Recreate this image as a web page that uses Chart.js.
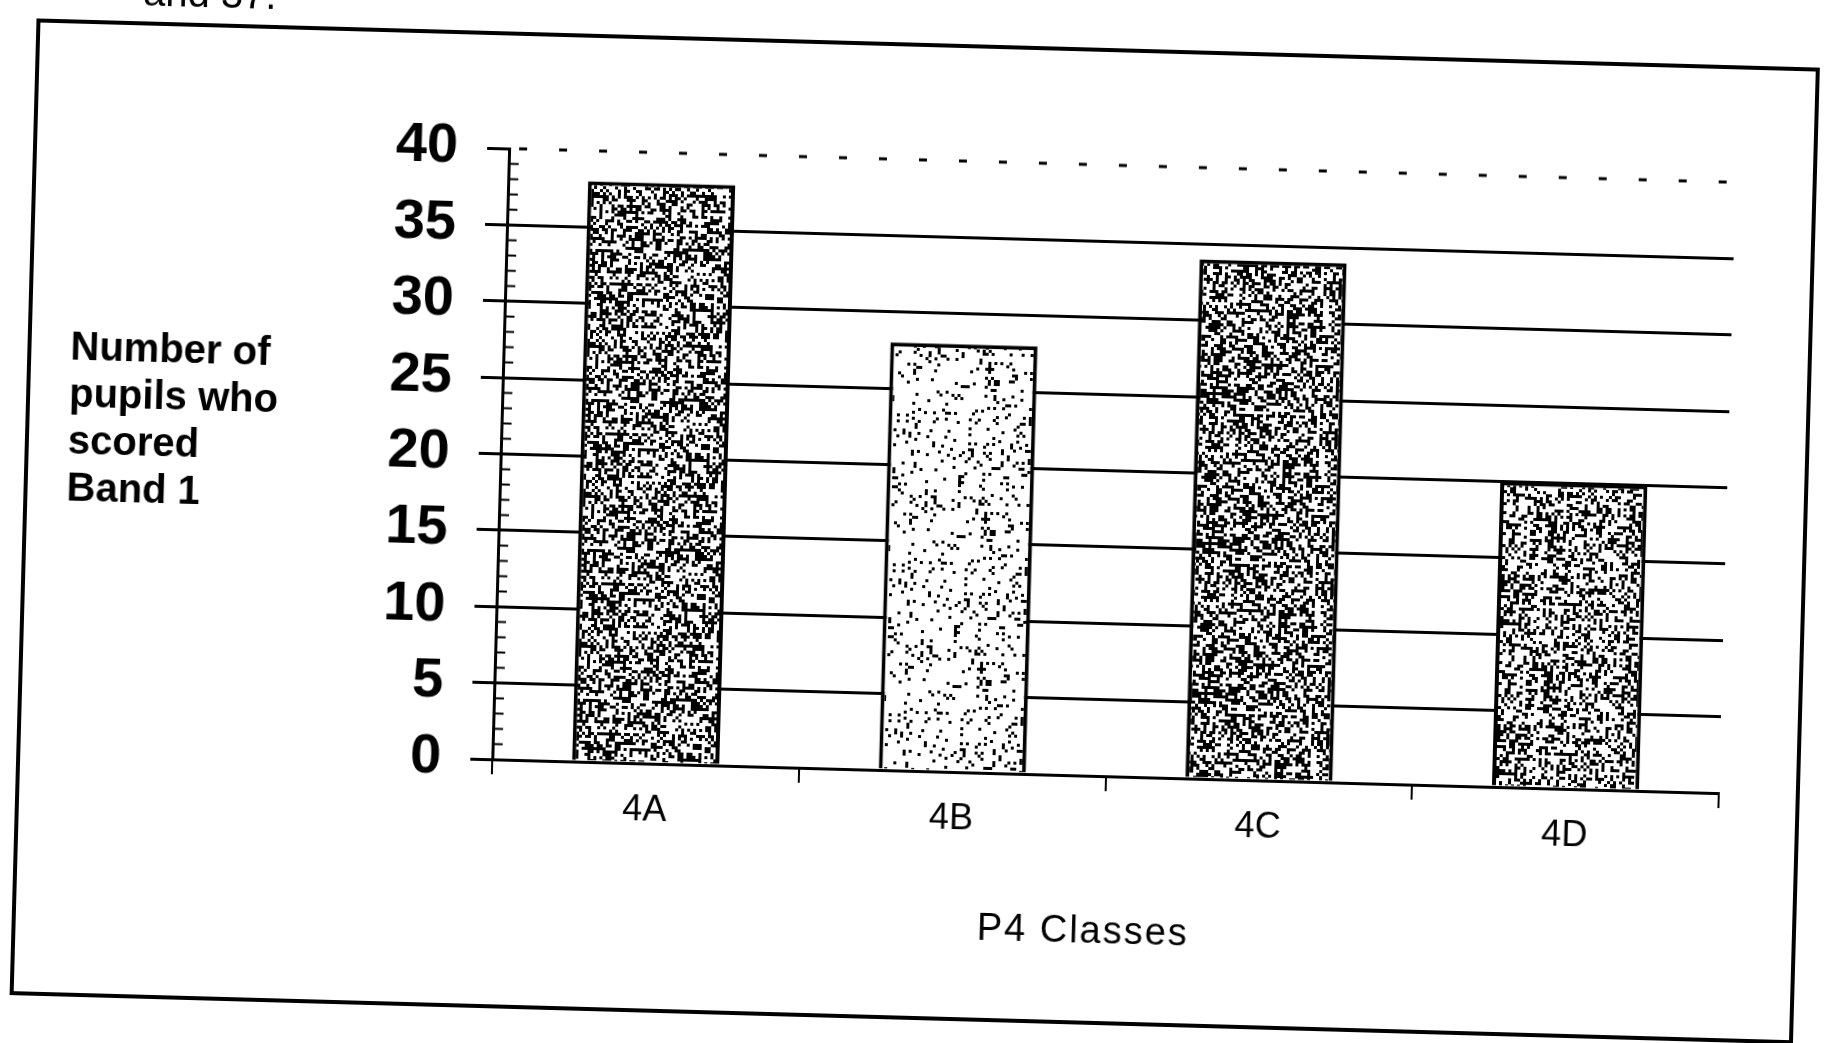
<!DOCTYPE html>
<html><head><meta charset="utf-8">
<script src="https://cdn.jsdelivr.net/npm/chart.js@4"></script>
<style>
html,body{margin:0;padding:0;background:#fff;overflow:hidden;width:1841px;height:1043px}
#c{position:absolute;left:0;top:0;transform:rotate(1.58deg);transform-origin:920.5px 521.5px}
</style></head><body>
<canvas id="c" width="1841" height="1043"></canvas>
<script>
// ---- data ----
const categories = ['4A', '4B', '4C', '4D'];
const pupilsBand1 = [38, 28, 34, 20];
const yTickValues = [0, 5, 10, 15, 20, 25, 30, 35, 40];
const yTitleLines = ['Number of', 'pupils who', 'scored', 'Band 1'];
const xTitle = 'P4 Classes';
const topFragment = 'and 37.';

// ---- styling ----
const FONT = '"Liberation Sans", Arial, sans-serif';
const stippleDensity = [0.47, 0.13, 0.50, 0.40];

function hash(x, y, s) {
  let h = Math.imul(x, 374761393) ^ Math.imul(y, 668265263) ^ Math.imul(s, 1442695041);
  h = Math.imul(h ^ (h >>> 13), 1274126177);
  h = h ^ (h >>> 16);
  return (h >>> 0) / 4294967296;
}
function stipple(density, seed) {
  const size = 150, cell = 3;
  const off = document.createElement('canvas');
  off.width = size; off.height = size;
  const g = off.getContext('2d');
  g.fillStyle = '#fff'; g.fillRect(0, 0, size, size);
  g.fillStyle = '#000';
  for (let j = 0; j < size / cell; j++) {
    for (let i = 0; i < size / cell; i++) {
      if (hash(i + 1, j + 1, seed) < density) g.fillRect(i * cell, j * cell, cell, cell);
    }
  }
  return g.createPattern(off, 'repeat');
}
const barFills = stippleDensity.map((d, i) => stipple(d, i + 7));

const decor = {
  id: 'decor',
  beforeDatasetsDraw(chart) {
    const ctx = chart.ctx, y = chart.scales.y, a = chart.chartArea;
    ctx.save();
    // dashed top gridline
    ctx.strokeStyle = '#000'; ctx.lineWidth = 3; ctx.setLineDash([8, 32]);
    const py = y.getPixelForValue(yTickValues[yTickValues.length - 1]);
    ctx.beginPath(); ctx.moveTo(a.left + 10, py); ctx.lineTo(a.right, py); ctx.stroke();
    ctx.setLineDash([]);
    // minor ticks every unit
    ctx.lineWidth = 2;
    for (let v = 1; v < 40; v++) {
      if (v % 5 === 0) continue;
      const p = y.getPixelForValue(v);
      ctx.beginPath(); ctx.moveTo(a.left, p); ctx.lineTo(a.left + 10, p); ctx.stroke();
    }
    ctx.restore();
  },
  afterDraw(chart) {
    const ctx = chart.ctx, a = chart.chartArea;
    ctx.save();
    ctx.fillStyle = '#000';
    // y title (horizontal, multi-line)
    ctx.font = 'bold 40px ' + FONT;
    ctx.textAlign = 'left'; ctx.textBaseline = 'middle';
    yTitleLines.forEach((t, i) => ctx.fillText(t, 66, a.top + 212 + i * 47));
    // x title
    ctx.font = '38px ' + FONT;
    ctx.textAlign = 'center';
    try { ctx.letterSpacing = '2px'; } catch (e) {}
    ctx.fillText(xTitle, a.left + 595, a.bottom + 157);
    try { ctx.letterSpacing = '0px'; } catch (e) {}
    // fragment of page text above frame
    ctx.font = '40px ' + FONT;
    ctx.textAlign = 'left'; ctx.textBaseline = 'alphabetic';
    ctx.fillText(topFragment, 129, 27);
    // frame
    ctx.strokeStyle = '#000'; ctx.lineWidth = 4;
    ctx.strokeRect(25, 45, 1780, 973);
    ctx.restore();
  }
};

new Chart(document.getElementById('c'), {
  type: 'bar',
  data: {
    labels: categories,
    datasets: [{
      data: pupilsBand1,
      backgroundColor: barFills,
      borderColor: '#000',
      borderWidth: 4,
      borderSkipped: 'start',
      barPercentage: 0.48,
      categoryPercentage: 1
    }]
  },
  options: {
    responsive: false,
    animation: false,
    events: [],
    layout: { padding: { left: 0, top: 160, right: 115, bottom: 172 } },
    plugins: { legend: { display: false }, tooltip: { enabled: false }, title: { display: false } },
    scales: {
      x: {
        offset: true,
        grid: { display: true, drawOnChartArea: false, drawTicks: true, tickLength: 15, color: '#000', lineWidth: 2 },
        border: { display: true, color: '#000', width: 3 },
        ticks: { color: '#000', font: { family: FONT, size: 36 }, padding: 10, maxRotation: 0 },
        afterFit: s => { s.height = 100; }
      },
      y: {
        min: 0, max: 40,
        afterBuildTicks: s => { s.ticks = yTickValues.map(v => ({ value: v })); },
        grid: {
          color: c => (c.tick && (c.tick.value === 40 || c.tick.value === 0)) ? 'rgba(0,0,0,0)' : '#000',
          lineWidth: 3, drawTicks: true, tickLength: 22, tickColor: '#000', tickWidth: 3
        },
        border: { display: true, color: '#000', width: 3 },
        ticks: { color: '#000', font: { family: FONT, size: 56, weight: 'bold' }, padding: 29, autoSkip: false },
        afterFit: s => { s.width = 499; }
      }
    }
  },
  plugins: [decor]
});
</script>
</body></html>
